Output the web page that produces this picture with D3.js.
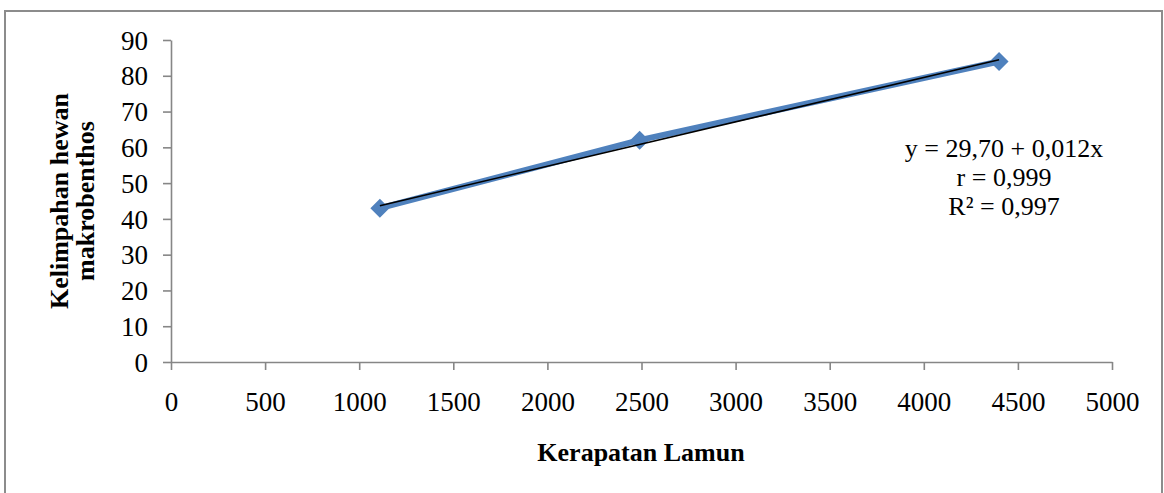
<!DOCTYPE html>
<html>
<head>
<meta charset="utf-8">
<script src="https://cdn.jsdelivr.net/npm/d3@7"></script>
<style>
  body { margin: 0; background: #fff; }
  svg text { font-family: "Liberation Serif", "Times New Roman", serif; fill: #000; }
</style>
</head>
<body>
<div id="chart"></div>
<script>
// Data
const kerapatan = [1110, 2490, 4400];   // x: Kerapatan Lamun
const kelimpahan = [43, 62, 84];        // y: Kelimpahan hewan makrobenthos
const xTicks = [0, 500, 1000, 1500, 2000, 2500, 3000, 3500, 4000, 4500, 5000];
const yTicks = [0, 10, 20, 30, 40, 50, 60, 70, 80, 90];
const eqLines = ["y = 29,70 + 0,012x", "r = 0,999", "R\u00b2 = 0,997"];

const W = 1164, H = 493;
const margin = { top: 40, right: 52, bottom: 131, left: 171 };
const width = W - margin.left - margin.right;
const height = H - margin.top - margin.bottom;

const svg = d3.select("#chart")
  .append("svg")
  .attr("width", W)
  .attr("height", H);

// outer frame
svg.append("rect")
  .attr("x", 5).attr("y", 11)
  .attr("width", 1157).attr("height", 490)
  .attr("fill", "none")
  .attr("stroke", "#8c8c8c")
  .attr("stroke-width", 2);

const g = svg.append("g")
  .attr("transform", `translate(${margin.left},${margin.top})`);

const x = d3.scaleLinear().domain([0, 5000]).range([0, width]);
const y = d3.scaleLinear().domain([0, 90]).range([height, 0]);

// axes
const xAxis = g.append("g")
  .attr("transform", `translate(0,${height})`)
  .call(d3.axisBottom(x).tickValues(xTicks).tickSize(8).tickSizeOuter(0).tickPadding(22).tickFormat(d3.format("d")));

const yAxis = g.append("g")
  .call(d3.axisLeft(y).tickValues(yTicks).tickSize(8).tickSizeOuter(0).tickPadding(15).tickFormat(d3.format("d")));

[xAxis, yAxis].forEach(a => {
  a.selectAll("path, line").attr("stroke", "#868686").attr("stroke-width", 1.6);
  a.selectAll("text")
    .style("font-family", '"Liberation Serif", serif')
    .style("font-size", "27px")
    .attr("fill", "#000");
});
yAxis.selectAll("text").attr("dy", "0.34em");

// data series line
const pts = kerapatan.map((v, i) => [v, kelimpahan[i]]);
g.append("path")
  .datum(pts)
  .attr("fill", "none")
  .attr("stroke", "#4f81bd")
  .attr("stroke-width", 6)
  .attr("stroke-linejoin", "round")
  .attr("d", d3.line().x(d => x(d[0])).y(d => y(d[1])));

// diamond markers
g.selectAll(".pt")
  .data(pts)
  .enter()
  .append("path")
  .attr("class", "pt")
  .attr("transform", d => `translate(${x(d[0])},${y(d[1])})`)
  .attr("d", d3.symbol().type(d3.symbolDiamond2).size(230))
  .attr("fill", "#4f81bd");

// linear trend line (least squares over the points)
const mx = d3.mean(kerapatan), my = d3.mean(kelimpahan);
const sxy = d3.sum(kerapatan, (v, i) => (v - mx) * (kelimpahan[i] - my));
const sxx = d3.sum(kerapatan, v => (v - mx) * (v - mx));
const slope = sxy / sxx, icpt = my - slope * mx;
const xr = d3.extent(kerapatan);
g.append("line")
  .attr("x1", x(xr[0])).attr("y1", y(icpt + slope * xr[0]))
  .attr("x2", x(xr[1])).attr("y2", y(icpt + slope * xr[1]))
  .attr("stroke", "#000")
  .attr("stroke-width", 1.6);

// equation text
svg.append("text")
  .attr("text-anchor", "middle")
  .style("font-size", "26px")
  .selectAll("tspan")
  .data(eqLines)
  .enter()
  .append("tspan")
  .attr("x", 1004)
  .attr("y", (d, i) => 157 + i * 29)
  .text(d => d);

// axis titles
svg.append("text")
  .attr("x", 641).attr("y", 461)
  .attr("text-anchor", "middle")
  .style("font-size", "26px")
  .style("font-weight", "bold")
  .text("Kerapatan Lamun");

const yt = svg.append("text")
  .attr("transform", "translate(0,201) rotate(-90)")
  .attr("text-anchor", "middle")
  .style("font-size", "26px")
  .style("font-weight", "bold");
yt.append("tspan").attr("x", 0).attr("y", 68).text("Kelimpahan hewan");
yt.append("tspan").attr("x", 0).attr("y", 94).text("makrobenthos");
</script>
</body>
</html>
